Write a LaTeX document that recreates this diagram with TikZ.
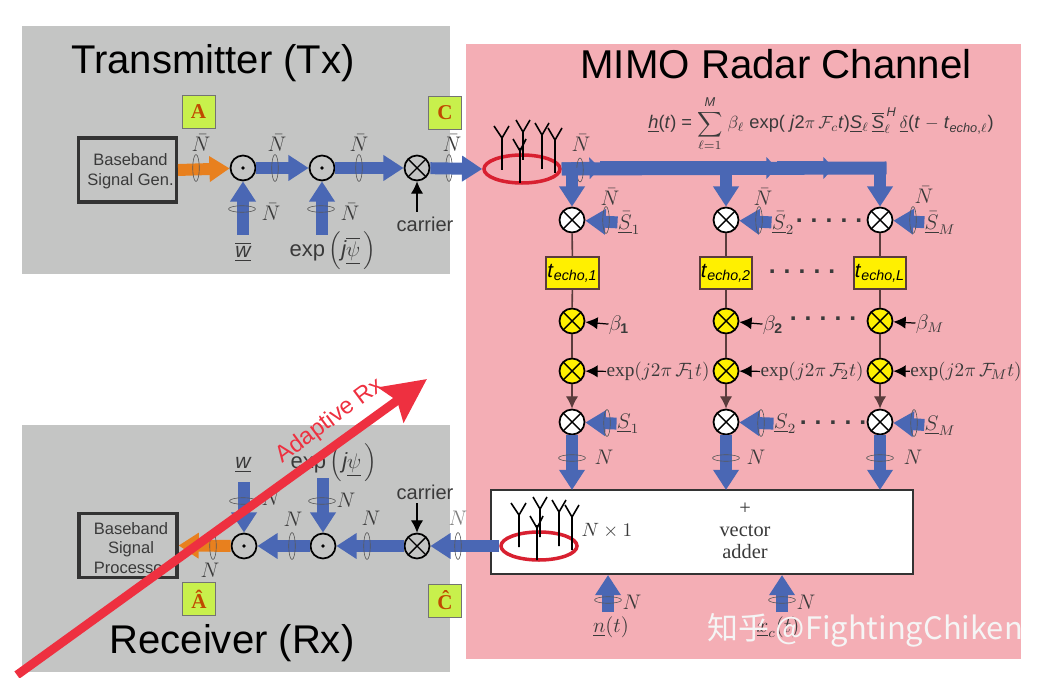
\documentclass[tikz,border=0pt]{standalone}
\usepackage{amsmath}
\usepackage{fontspec}
\setmainfont{Liberation Sans}
\newfontfamily\timesfont{Liberation Serif}
\newfontfamily\cjkfont{Noto Sans CJK SC}
\usepackage{xcolor}
\usepackage{tikz}
\usetikzlibrary{shapes.geometric,arrows.meta}
\definecolor{panel}{HTML}{C4C5C4}
\definecolor{chan}{HTML}{F4AEB5}
\definecolor{sigblue}{HTML}{4A67B4}
\definecolor{sigorange}{HTML}{E8801E}
\definecolor{tagfill}{HTML}{C8F04C}
\definecolor{tagtext}{HTML}{C04A00}
\definecolor{hotred}{HTML}{EE3040}
\definecolor{ringred}{HTML}{D82030}
\definecolor{echoyellow}{HTML}{FFF000}
\definecolor{wire}{HTML}{5A3C3C}
\definecolor{inktext}{HTML}{3A3A3A}
\newcommand{\dotrow}{\textbf{.}\hspace{4.6pt}\textbf{.}\hspace{4.6pt}\textbf{.}\hspace{4.6pt}\textbf{.}\hspace{4.6pt}\textbf{.}}
\newcommand{\techo}[1]{\textit{t}$_{\text{\textit{echo,#1}}}$}
\newcommand{\sigexp}{\text{\timesfont exp}}
\newcommand{\antennas}{%
  \draw (-20,1) -- (-20,-33) (-28,-43) -- (-20,-31) -- (-13,-43);
  \draw (-2,14) -- (-2,-21) (-9,-30) -- (-2,-18) (4,-30) -- (-2,-18);
  \draw (1,-9) -- (1,-37) (-6,-49) -- (1,-37) -- (8,-49);
  \draw (20,0) -- (20,-34) (13,-46) -- (20,-34) -- (27,-46);
  \draw (33,4) -- (33,-30) (26,-41) -- (33,-29) -- (40,-41);}

\begin{document}
\begin{tikzpicture}[x=0.02cm,y=-0.02cm,font=\fontsize{12}{14}\selectfont,>=Latex,
  fatline/.style={sigblue,line width=6.8pt},
  fat/.style={fatline,-{Triangle[length=11.5pt,width=14pt]}},
  fatorange/.style={fat,sigorange},
  bushead/.style={fatline,line width=7.4pt,-{Triangle[length=6pt,width=12pt]}},
  thinarrow/.style={black,line width=0.7pt,-{Latex[length=7pt,width=7pt]}},
  wireline/.style={wire,line width=0.9pt},
  mulx/.style={circle,draw=black,line width=1pt,fill=#1,minimum size=0.5cm,inner sep=0pt,
    path picture={\draw[line width=0.8pt] (path picture bounding box.north west) -- (path picture bounding box.south east)
      (path picture bounding box.north east) -- (path picture bounding box.south west);}},
  muldot/.style={circle,draw=black,line width=1pt,minimum size=0.5cm,inner sep=0pt,
    path picture={\fill (path picture bounding box.center) circle (1.1pt);}},
  ringv/.style={ellipse,draw=black!65,line width=0.35pt,minimum width=0.13cm,minimum height=0.54cm,inner sep=0pt},
  ringh/.style={ellipse,draw=black!65,line width=0.35pt,minimum width=0.54cm,minimum height=0.13cm,inner sep=0pt},
  procbox/.style={draw=black!80,line width=1.8pt,inner sep=0pt,minimum width=1.96cm,minimum height=1.28cm},
  proctext/.style={align=center,inner sep=0pt,text=inktext,font=\fontsize{9.4}{11.1}\selectfont},
  tagbox/.style={draw=black!55,fill=tagfill,line width=0.4pt,minimum size=0.66cm,inner sep=0pt,text=tagtext,
    font=\timesfont\bfseries\fontsize{12}{14}\selectfont},
  echobox/.style={draw=wire,fill=echoyellow,line width=0.9pt,minimum width=1.05cm,minimum height=0.64cm,inner sep=0pt,
    font=\fontsize{11.6}{14}\selectfont},
  antring/.style={ellipse,draw=ringred,line width=2pt,minimum width=1.52cm,minimum height=0.56cm,inner sep=0pt},
  ttl/.style={font=\fontsize{22.8}{26}\selectfont},
  lab/.style={text=inktext,inner sep=1pt},
  explab/.style={lab,inner sep=0pt,font=\timesfont\fontsize{11}{13}\selectfont},
  dotlab/.style={lab,inner sep=0pt,font=\fontsize{14}{16}\selectfont},
  sanslab/.style={text=inktext,inner sep=0pt,font=\fontsize{11.4}{13}\selectfont}]
\useasboundingbox (0,0) rectangle (1050,678);

% ---- panels
\fill[panel] (22,26) rectangle (450,274);
\fill[panel] (22,425) rectangle (450,672);
\fill[chan] (466,44) rectangle (1021,659);
\node[ttl] (txtitle) at (213,63) {Transmitter (Tx)};
\node[ttl] (rxtitle) at (232,643) {Receiver (Rx)};
\node[ttl,font=\fontsize{22.9}{26}\selectfont] (chtitle) at (776,64) {MIMO Radar Channel};

% ---- transmitter
\node[procbox] (srcgen) at (127.5,170) {};
\node[proctext] (srctext) at (130.5,171) {Baseband\\Signal Gen.};
\node[tagbox] (tagA) at (198.5,111.5) {A};
\node[tagbox] (tagC) at (445,112.5) {C};
\node[muldot] (tdot1) at (243,168) {};
\node[muldot] (tdot2) at (322,168) {};
\node[mulx=panel] (tmix) at (417,168) {};
\node[lab] (tw) at (243,252) {$\underline{\overline{\textit{w}}}$};
\node[lab,font=\fontsize{12.5}{14}\selectfont] (texp) at (333,251) {exp\,$\Big(\textit{j}\underline{\overline{\psi}}\,\Big)$};
\node[sanslab] (tcarrier) at (425,224) {carrier};
\coordinate (tw0) at (243,235); \coordinate (te0) at (322,235); \coordinate (tc0) at (417,212);
\draw[fatorange] (srcgen.east) -- (tdot1);
\draw[fat] (tdot1) -- (tdot2);
\draw[fat] (tdot2) -- (tmix);
\draw[fat] (tw0) -- (tdot1);
\draw[fat] (te0) -- (tdot2);
\draw[thinarrow] (tc0) -- (tmix);
\node[ringv] (tr1) at (196,168) {}; \node[ringv] (tr2) at (275,168) {};
\node[ringv] (tr3) at (359,168) {}; \node[ringv] (tr4) at (449,168) {};
\node[ringh] (tr5) at (242,209) {}; \node[ringh] (tr6) at (321,209) {};
\node[lab] (tn1) at (201,143) {$\bar N$}; \node[lab] (tn2) at (277,143) {$\bar N$};
\node[lab] (tn3) at (359,143) {$\bar N$}; \node[lab] (tn4) at (452,143) {$\bar N$};
\node[lab] (tn5) at (271,212) {$\bar N$}; \node[lab] (tn6) at (350,212) {$\bar N$};

% ---- channel: tx array and bus
\node[antring] (txarr) at (522,169) {};
\begin{scope}[shift={(522,169)},line width=0.9pt]
  \antennas
\end{scope}
\draw[fat] (tmix) -- (txarr.west);
\coordinate (bus1) at (600,168); \coordinate (bus2) at (777,168); \coordinate (bus3) at (834,168); \coordinate (bus4) at (886.5,168);
\coordinate (dropa) at (572,168); \coordinate (dropb) at (726,168); \coordinate (dropc) at (880,168);
\draw[bushead] (txarr.east) -- (bus1);
\draw[bushead] (bus1) -- (bus2);
\draw[bushead] (bus2) -- (bus3);
\draw[fatline,line width=7.4pt] (txarr.east) -- (bus4);
\node[ringv,minimum height=0.48cm] (brs) at (580,170) {};
\node[lab] (bn) at (581,143) {$\bar N$};
\node[font=\fontsize{10.4}{12}\selectfont,text=inktext] (eqn) at (821,124)
  {\underline{\textit{h}}(\textit{t}) = $\displaystyle\sum_{\ell=1}^{\text{\textit{M}}}$ $\beta_{\ell}$ exp( \textit{j}2$\pi$\,$\mathcal{F}_c$\textit{t})\underline{\textit{S}}$_{\ell}$\,$\underline{\overline{\textit{S}}}_{\ell}^{\,\textit{H}}$\,\underline{$\delta$}(\textit{t} $-$ \textit{t}$_{\text{\textit{echo},}\ell}$)};

% ---- channel: first column
\node[mulx=white] (xa1) at (572,220) {};
\node[echobox] (ta) at (572.5,273) {\techo{1}};
\node[mulx=echoyellow] (ba) at (572,321) {};
\node[mulx=echoyellow] (ea) at (572,371) {};
\node[mulx=white] (xa2) at (572,422) {};
\node[lab,inner sep=0pt] (sa1) at (629,223) {$\underline{\bar S}_1$};
\node[lab,inner sep=0pt] (la) at (619,325) {$\beta_{\mathbf{1}}$};
\node[explab] (fa) at (658,372) {$\sigexp(j2\pi\,\mathcal{F}_{\!1}t)$};
\node[lab,inner sep=0pt] (sa2) at (628,424) {$\underline{S}_1$};
\draw[fat] (dropa) -- (xa1);
\draw[fat] (sa1) -- (xa1);
\draw[wireline] (xa1) -- (ta); \draw[wireline] (ta) -- (ba); \draw[wireline] (ba) -- (ea);
\draw[thinarrow,wire] (ea) -- (xa2);
\draw[thinarrow] (la) -- (ba); \draw[thinarrow] (fa) -- (ea);
\draw[fat] (sa2) -- (xa2);
\node[ringv] (ra1) at (606,220) {}; \node[ringv] (ra2) at (607,423) {};
\node[lab] (na1) at (610,197) {$\bar N$}; \node[lab] (na2) at (604,457) {$N$};

% ---- channel: second column
\node[mulx=white] (xb1) at (726,220) {};
\node[echobox] (tb) at (726,273) {\techo{2}};
\node[mulx=echoyellow] (bb) at (726,321) {};
\node[mulx=echoyellow] (eb) at (726,371) {};
\node[mulx=white] (xb2) at (726,422) {};
\node[lab,inner sep=0pt] (sb1) at (783,223) {$\underline{\bar S}_2$};
\node[lab,inner sep=0pt] (lb) at (773,325) {$\beta_{\mathbf{2}}$};
\node[explab] (fb) at (812,372) {$\sigexp(j2\pi\,\mathcal{F}_{\!2}t)$};
\node[lab,inner sep=0pt] (sb2) at (785,424) {$\underline{S}_2$};
\draw[fat] (dropb) -- (xb1);
\draw[fat] (sb1) -- (xb1);
\draw[wireline] (xb1) -- (tb); \draw[wireline] (tb) -- (bb); \draw[wireline] (bb) -- (eb);
\draw[thinarrow,wire] (eb) -- (xb2);
\draw[thinarrow] (lb) -- (bb); \draw[thinarrow] (fb) -- (eb);
\draw[fat] (sb2) -- (xb2);
\node[ringv] (rb1) at (759,220) {}; \node[ringv] (rb2) at (761,423) {};
\node[lab] (nb1) at (763,197) {$\bar N$}; \node[lab] (nb2) at (756,457) {$N$};

% ---- channel: third column
\node[mulx=white] (xc1) at (880,220) {};
\node[echobox] (tc) at (880,273) {\techo{L}};
\node[mulx=echoyellow] (bc) at (880,321) {};
\node[mulx=echoyellow] (ec) at (880,371) {};
\node[mulx=white] (xc2) at (880,422) {};
\node[lab,inner sep=0pt] (sc1) at (940,223) {$\underline{\bar S}_M$};
\node[lab,inner sep=0pt] (lc) at (930,324) {$\beta_{M}$};
\node[explab] (fc) at (966,372) {$\sigexp(j2\pi\,\mathcal{F}_{\!M}t)$};
\node[lab,inner sep=0pt] (sc2) at (940,426) {$\underline{S}_M$};
\draw[fat] (dropc) -- (xc1);
\draw[fat] (sc1) -- (xc1);
\draw[wireline] (xc1) -- (tc); \draw[wireline] (tc) -- (bc); \draw[wireline] (bc) -- (ec);
\draw[thinarrow,wire] (ec) -- (xc2);
\draw[thinarrow] (lc) -- (bc); \draw[thinarrow] (fc) -- (ec);
\draw[fat] (sc2) -- (xc2);
\node[ringv] (rc1) at (913,220) {}; \node[ringv] (rc2) at (914,423) {};
\node[lab] (nc1) at (924,195) {$\bar N$}; \node[lab] (nc2) at (913,457) {$N$};

\node[dotlab] (dots1) at (829,221) {\dotrow};
\node[dotlab] (dots2) at (802,272) {\dotrow};
\node[dotlab] (dots3) at (823,319) {\dotrow};
\node[dotlab] (dots4) at (833,423) {\dotrow};

% ---- vector adder
\node[draw=black!80,fill=white,line width=0.9pt,minimum width=8.44cm,minimum height=1.68cm,inner sep=0pt] (adder) at (702,532) {};
\coordinate (adda) at (572,490); \coordinate (addb) at (726,490); \coordinate (addc) at (880,490);
\draw[fat] (xa2) -- (adda); \draw[fat] (xb2) -- (addb); \draw[fat] (xc2) -- (addc);
\node[ringh] (ra3) at (572,458) {}; \node[ringh] (rb3) at (726,458) {}; \node[ringh] (rc3) at (880,458) {};
\node[antring] (rxarr) at (539,546) {};
\begin{scope}[shift={(539,546)},line width=0.9pt]
  \antennas
\end{scope}
\node[lab,font=\timesfont\fontsize{11}{13}\selectfont] (nx1) at (607,531) {$N\times 1$};
\node[lab,font=\timesfont\fontsize{11.6}{12.4}\selectfont,align=center] (addlab) at (745,531) {+\\vector\\adder};
\node[lab,inner sep=0pt] (nt) at (611,627) {$\underline{n}(t)$};
\node[lab,inner sep=0pt] (xct) at (778,627) {$\underline{x}_c(t)$};
\coordinate (nt0) at (608,612); \coordinate (xc0) at (782,612);
\coordinate (addn) at (608,575); \coordinate (addx) at (782,575);
\draw[fat] (nt0) -- (addn); \draw[fat] (xc0) -- (addx);
\node[ringh] (rn) at (608,600) {}; \node[ringh] (rx) at (782,600) {};
\node[lab] (nn) at (632,602) {$N$}; \node[lab] (nxc) at (806,602) {$N$};

% ---- receiver
\node[procbox] (sink) at (128,545.5) {};
\node[proctext] (sinktext) at (131,548) {Baseband\\Signal\\Processor};
\node[tagbox] (tagAh) at (199,599) {Â};
\node[tagbox] (tagCh) at (445,600.5) {Ĉ};
\node[muldot] (rdot1) at (244,546) {};
\node[muldot] (rdot2) at (323,546) {};
\node[mulx=panel] (rmix) at (417,546) {};
\node[lab] (rw) at (243,465) {$\underline{\textit{w}}$};
\node[lab,font=\fontsize{12.5}{14}\selectfont] (rexp) at (334,463) {exp\,$\Big(\textit{j}\underline{\psi}\,\Big)$};
\node[sanslab] (rcarrier) at (425,492) {carrier};
\coordinate (rw0) at (244,482); \coordinate (re0) at (323,478); \coordinate (rc0) at (417,503);
\draw[fat] (rxarr.west) -- (rmix);
\draw[fat] (rmix) -- (rdot2);
\draw[fat] (rdot2) -- (rdot1);
\draw[fatorange] (rdot1) -- (sink.east);
\draw[fat] (rw0) -- (rdot1);
\draw[fat] (re0) -- (rdot2);
\draw[thinarrow] (rc0) -- (rmix);
\node[ringv] (rr1) at (213,546) {}; \node[ringv] (rr2) at (292,546) {};
\node[ringv] (rr3) at (367,546) {}; \node[ringv] (rr4) at (458,546) {};
\node[ringh] (rr5) at (243,501) {}; \node[ringh] (rr6) at (322,501) {};
\node[lab] (rn1) at (210,570) {$N$}; \node[lab] (rn2) at (293,519) {$N$};
\node[lab] (rn3) at (371,518) {$N$}; \node[lab,text=black!50] (rn4) at (458,518) {$N$};
\node[lab] (rn5) at (271,498) {$N$}; \node[lab] (rn6) at (346,500) {$N$};

% ---- adaptive arrow and mark
\coordinate (adapt0) at (17,675); \coordinate (adapt1) at (427,379);
\draw[hotred,line width=5pt,-{Stealth[length=25pt,width=24pt,inset=4pt]}] (adapt0) -- (adapt1);
\node[text=hotred,rotate=36.5,font=\fontsize{13.4}{15}\selectfont] (adaptlab) at (330,421) {Adaptive Rx};
\node[text=white!92!gray,font=\cjkfont\fontsize{17.6}{20}\selectfont] (mark) at (865,630) {知乎 @FightingChiken};
\end{tikzpicture}
\end{document}
